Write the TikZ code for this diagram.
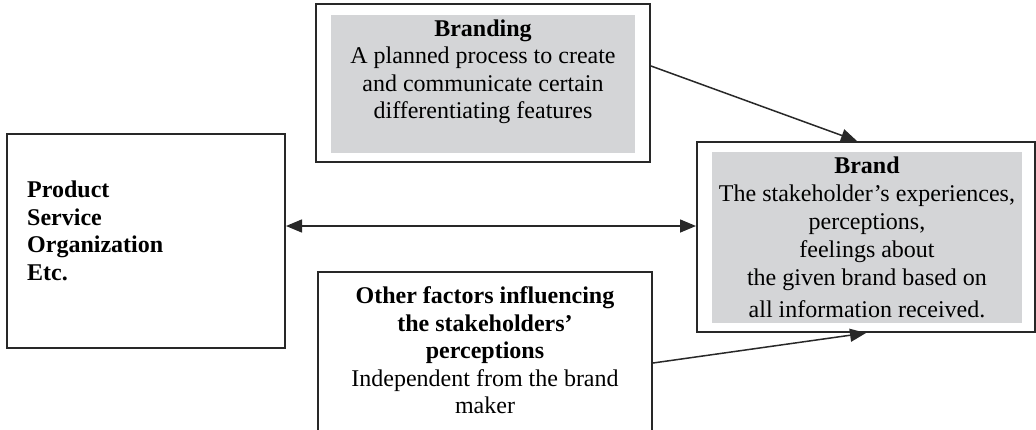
\documentclass[tikz,border=0pt]{standalone}
\usepackage{fontspec}
\setmainfont{Liberation Serif}
\usetikzlibrary{arrows.meta,calc}
\definecolor{boxgray}{RGB}{212,213,215}
\definecolor{linegray}{RGB}{40,40,40}
\begin{document}
\begin{tikzpicture}[x=1pt,y=-1pt,
  outerbox/.style={draw=linegray,line width=2pt,inner sep=0pt},
  graybox/.style={fill=boxgray,inner sep=0pt},
  txt/.style={inner sep=0pt,font=\fontsize{24}{27.5}\selectfont,align=center},
  conn/.style={line width=1.5pt,draw=linegray,-{Triangle[length=16pt,width=13pt]}}]
\clip (0,0) rectangle (1036,429);
\fill[white] (0,0) rectangle (1036,429);
% Branding
\node[outerbox,minimum width=334pt,minimum height=158pt] (bout) at (483,83) {};
\node[graybox,minimum width=304pt,minimum height=138pt] (bin) at (483,84) {};
\node[txt,anchor=north] (btxt) at (483,19.5) {\textbf{Branding}\\A planned process to create\\and communicate certain\\differentiating features};
% Brand
\node[outerbox,minimum width=338pt,minimum height=190pt] (rout) at (866,237) {};
\node[graybox,minimum width=310pt,minimum height=171pt] (rin) at (867,237.5) {};
\node[txt,anchor=north,font=\fontsize{24}{28}\selectfont] (rtxt) at (867,156.5) {\textbf{Brand}\\The stakeholder’s experiences,\\perceptions,\\feelings about\\the given brand based on\\[4pt]all information received.};
% Left box
\node[outerbox,minimum width=278pt,minimum height=214pt] (lb) at (146,241) {};
\node[txt,align=left,anchor=north west,font=\bfseries\fontsize{24}{27.8}\selectfont] (ltxt) at (27,180.5) {Product\\Service\\Organization\\Etc.};
% Other factors
\node[outerbox,minimum width=334pt,minimum height=182pt] (of) at (485,363) {};
\node[txt,anchor=north] (otxt) at (485,286.5) {\textbf{Other factors influencing}\\\textbf{the stakeholders’}\\\textbf{perceptions}\\Independent from the brand\\maker};
% connectors
\draw[conn] ([yshift=17pt]bout.east) -- ([xshift=-9pt]rout.north);
\coordinate (dl) at ([yshift=15pt]lb.east);
\draw[conn,{Triangle[length=16pt,width=13pt]}-{Triangle[length=16pt,width=13pt]}] (dl) -- (dl -| rout.west);
\draw[conn] (of.east) -- (rout.south);
\end{tikzpicture}
\end{document}
